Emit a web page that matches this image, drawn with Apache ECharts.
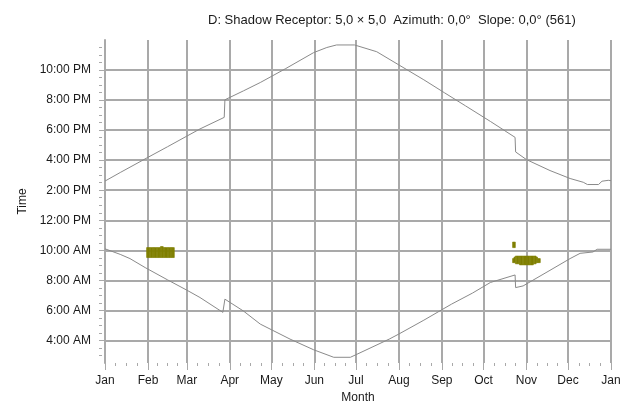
<!DOCTYPE html>
<html>
<head>
<meta charset="utf-8">
<script src="https://cdn.jsdelivr.net/npm/echarts@6/dist/echarts.min.js"></script>
<style>
  html, body { margin: 0; padding: 0; background: #ffffff; }
  #chart { width: 629px; height: 403px; }
</style>
</head>
<body>
<div id="chart"></div>
<script>
// Shadow calendar for receptor D: sunrise/sunset envelope and shadow periods.

const titleText = 'D: Shadow Receptor: 5,0 \u00d7 5,0  Azimuth: 0,0\u00b0  Slope: 0,0\u00b0 (561)';

// x axis: day of year, month boundaries and their labels
const monthNames = ['Jan', 'Feb', 'Mar', 'Apr', 'May', 'Jun', 'Jul', 'Aug', 'Sep', 'Oct', 'Nov', 'Dec', 'Jan'];
const monthStartDays = [0, 31, 59, 90, 120, 151, 181, 212, 243, 273, 304, 334, 365];

// y axis: clock hours (decimal)
const timeTicks = [4, 6, 8, 10, 12, 14, 16, 18, 20, 22];
const timeMinorTicks = [3, 3.5, 4.5, 5, 5.5, 6.5, 7, 7.5, 8.5, 9, 9.5, 10.5, 11, 11.5, 12.5, 13, 13.5,
  14.5, 15, 15.5, 16.5, 17, 17.5, 18.5, 19, 19.5, 20.5, 21, 21.5, 22.5, 23, 23.5];

// sunset (upper curve)
const sunsetDays  = [0, 11, 31, 45, 59, 68.5, 86, 86.5, 100, 112, 130, 150.5, 160, 167, 180, 196, 212,
  230, 245, 260, 278, 295.8, 296.2, 304, 321, 335.5, 345, 348, 356, 358.5, 363, 365];
const sunsetHours = [14.61, 15.18, 16.19, 16.89, 17.60, 18.08, 18.85, 20.02, 20.62, 21.17, 22.08, 23.16,
  23.50, 23.67, 23.67, 23.22, 22.34, 21.35, 20.48, 19.62, 18.58, 17.52, 16.55, 16.04, 15.31, 14.78,
  14.53, 14.38, 14.38, 14.60, 14.66, 14.64];

// sunrise (lower curve)
const sunriseDays  = [0, 11, 18, 29, 45, 59, 68.5, 85, 86.5, 100, 112, 133.5, 150.5, 165, 177, 181, 205,
  212, 230, 250, 265, 278, 295.8, 296.2, 301.6, 321, 335.5, 342.7, 352, 355, 365];
const sunriseHours = [10.10, 9.73, 9.45, 8.85, 8.04, 7.35, 6.86, 5.87, 6.75, 5.95, 5.09, 4.09, 3.38,
  2.88, 2.88, 3.05, 4.09, 4.43, 5.35, 6.42, 7.15, 7.86, 8.36, 7.52, 7.63, 8.67, 9.45, 9.80, 9.89,
  10.07, 10.07];

// shadow periods: day of year, start hour, end hour
const shadowDays  = [30, 31, 32, 33, 34, 35, 36, 37, 38, 39, 40, 41, 42, 43, 44, 45, 46, 47, 48, 49,
  294, 295,
  294, 295, 296, 297, 298, 299, 300, 301, 302, 303, 304, 305, 306, 307, 308, 309, 310, 311, 312, 313];
const shadowStart = [9.52, 9.52, 9.52, 9.52, 9.52, 9.52, 9.52, 9.52, 9.52, 9.52, 9.52, 9.52, 9.52, 9.52,
  9.52, 9.52, 9.52, 9.52, 9.52, 9.52,
  10.18, 10.18,
  9.18, 9.18, 9.10, 9.10, 9.10, 9.03, 9.03, 9.03, 9.03, 9.03, 9.03, 9.03, 9.03, 9.03, 9.03, 9.10, 9.10,
  9.18, 9.18, 9.18];
const shadowEnd   = [10.18, 10.18, 10.18, 10.18, 10.18, 10.18, 10.18, 10.18, 10.18, 10.18, 10.25, 10.25,
  10.18, 10.18, 10.18, 10.18, 10.18, 10.18, 10.18, 10.18,
  10.55, 10.55,
  9.45, 9.55, 9.62, 9.62, 9.62, 9.62, 9.62, 9.62, 9.62, 9.62, 9.62, 9.62, 9.62, 9.62, 9.62, 9.62, 9.62,
  9.55, 9.45, 9.45];

const gridColor = '#a9a9a9';
const curveColor = '#8a8a8a';
const shadowColor = '#808000';
const textColor = '#1a1a1a';
const fontFamily = '"Liberation Sans", Arial, sans-serif';

function clockLabel(h) {
  const hh = ((h + 11) % 12) + 1;
  return hh + ':00 ' + (h < 12 || h === 24 ? 'AM' : 'PM');
}

const monthMinorTicks = [];
for (let i = 0; i < monthStartDays.length - 1; i++) {
  const a = monthStartDays[i], b = monthStartDays[i + 1];
  for (let k = 1; k < 4; k++) monthMinorTicks.push(a + (b - a) * k / 4);
}

const zip = (xs, ys) => xs.map((x, i) => [x, ys[i]]);
const shadowData = shadowDays.map((d, i) => [d, shadowStart[i], shadowEnd[i]]);

const chart = echarts.init(document.getElementById('chart'), null, { renderer: 'canvas' });

const yBase = { type: 'value', min: 2.5, max: 24, position: 'left' };
const xBase = { type: 'value', min: 0, max: 365, position: 'bottom' };

chart.setOption({
  animation: false,
  backgroundColor: '#ffffff',
  title: {
    text: titleText,
    left: 203,
    top: 9,
    textStyle: { fontFamily, fontSize: 13, fontWeight: 'normal', color: textColor }
  },
  grid: { left: 105, right: 18, top: 40, bottom: 40, outerBoundsMode: 'none', containLabel: false },
  xAxis: [
    Object.assign({}, xBase, {
      name: 'Month',
      nameLocation: 'middle',
      nameGap: 26,
      nameTextStyle: { fontFamily, fontSize: 12, color: textColor },
      axisLine: { show: false },
      axisTick: { show: true, customValues: monthStartDays, length: 7, inside: false,
        lineStyle: { color: gridColor, width: 1 } },
      axisLabel: {
        customValues: monthStartDays,
        margin: 12,
        fontFamily, fontSize: 12, color: textColor,
        formatter: (v) => monthNames[monthStartDays.indexOf(Math.round(v))] || ''
      },
      splitLine: { show: true, lineStyle: { color: gridColor, width: 2 } }
    }),
    Object.assign({}, xBase, {
      axisLine: { show: false },
      axisTick: { show: true, customValues: monthMinorTicks, length: 3,
        lineStyle: { color: gridColor, width: 1 } },
      axisLabel: { show: false },
      splitLine: { show: false }
    })
  ],
  yAxis: [
    Object.assign({}, yBase, {
      name: 'Time',
      nameLocation: 'middle',
      nameGap: 74,
      nameRotate: 90,
      nameTextStyle: { fontFamily, fontSize: 12, color: textColor },
      axisLine: { show: true, lineStyle: { color: gridColor, width: 2 } },
      axisTick: { show: false, customValues: timeTicks },
      axisLabel: {
        customValues: timeTicks,
        margin: 14,
        fontFamily, fontSize: 12, color: textColor,
        formatter: (v) => clockLabel(Math.round(v))
      },
      splitLine: { show: true, lineStyle: { color: gridColor, width: 2 } }
    }),
    Object.assign({}, yBase, {
      offset: 3,
      axisLine: { show: false },
      axisTick: { show: true, customValues: timeTicks, length: 6,
        lineStyle: { color: gridColor, width: 1 } },
      axisLabel: { show: false },
      splitLine: { show: false }
    }),
    Object.assign({}, yBase, {
      offset: 3,
      axisLine: { show: false },
      axisTick: { show: true, customValues: timeMinorTicks, length: 3,
        lineStyle: { color: gridColor, width: 1 } },
      axisLabel: { show: false },
      splitLine: { show: false }
    })
  ],
  series: [
    {
      name: 'Sunset',
      type: 'line',
      data: zip(sunsetDays, sunsetHours),
      showSymbol: false,
      lineStyle: { color: curveColor, width: 1 },
      z: 3
    },
    {
      name: 'Sunrise',
      type: 'line',
      data: zip(sunriseDays, sunriseHours),
      showSymbol: false,
      lineStyle: { color: curveColor, width: 1 },
      z: 3
    },
    {
      name: 'Shadow',
      type: 'custom',
      data: shadowData,
      z: 4,
      renderItem: (params, api) => {
        const d = api.value(0);
        const top = api.coord([d, api.value(2)]);
        const bottom = api.coord([d + 1, api.value(1)]);
        return {
          type: 'rect',
          shape: { x: top[0], y: top[1], width: bottom[0] - top[0], height: bottom[1] - top[1] },
          style: { fill: shadowColor, stroke: shadowColor, lineWidth: 0.6 }
        };
      }
    }
  ]
});
</script>
</body>
</html>
